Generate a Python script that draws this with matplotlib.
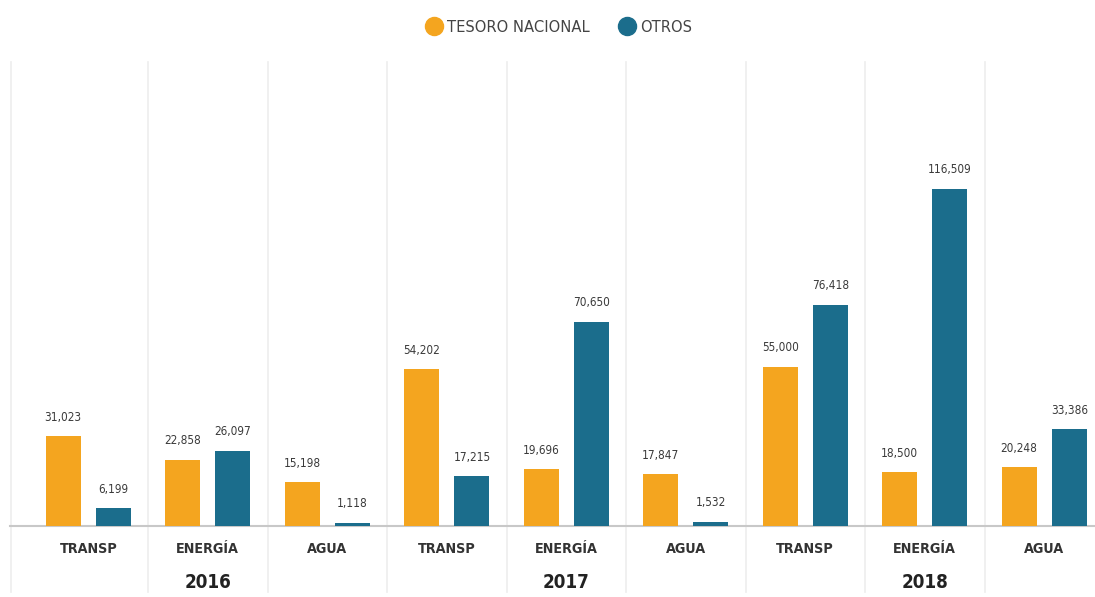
import numpy as np
import matplotlib
matplotlib.use("Agg")
import matplotlib.pyplot as plt
from matplotlib.lines import Line2D
from matplotlib.transforms import blended_transform_factory

# inversion por sector y fuente de financiamiento
years = ['2016', '2017', '2018']
sectors = ['TRANSP', 'ENERGÍA', 'AGUA']
categories = sectors * len(years)
tesoro = [31023, 22858, 15198, 54202, 19696, 17847, 55000, 18500, 20248]
otros = [6199, 26097, 1118, 17215, 70650, 1532, 76418, 116509, 33386]

orange = '#F4A51F'
blue = '#1B6D8C'
fam = ['DejaVu Sans']
stretch = 'condensed'

W, H = 1095, 597
fig = plt.figure(figsize=(W / 100, H / 100), dpi=100)
ax = fig.add_axes([0, 0, 1, 1])

# pixel scale: one category is ~119.5 px wide, 1000 units ~2.893 px tall
cat_px = 119.5
x0 = -0.5 - 28.5 / cat_px
ax.set_xlim(x0, x0 + W / cat_px)
base_px = 526
unit = 2.893 / 1000
ax.set_ylim(-(H - base_px) / unit, base_px / unit)
ax.axis('off')

x = np.arange(len(categories))
bw = 0.293
off = 0.21

# separators between categories
top_y = (base_px - 62) / unit
bot_y = (base_px - 592) / unit
for sx in [x0 + 11 / cat_px] + list(x[:-1] + 0.5):
    ax.plot([sx, sx], [bot_y, top_y], color='#ededed', lw=1.2, zorder=0)

ax.plot([x0 + 10 / cat_px, x0 + W / cat_px], [0, 0], color='#c8c8c8', lw=1.5, zorder=1)

b1 = ax.bar(x - off, tesoro, bw, color=orange, zorder=2)
b2 = ax.bar(x + off, otros, bw, color=blue, zorder=2)

for bars, vals in [(b1, tesoro), (b2, otros)]:
    for b, v in zip(bars, vals):
        ax.annotate(f'{v:,}', (b.get_x() + b.get_width() / 2, v),
                    xytext=(0, 9), textcoords='offset points',
                    ha='center', va='bottom', fontsize=8.5,
                    color='#3a3a3a', family=fam, fontstretch=stretch)

tr = blended_transform_factory(ax.transData, ax.transAxes)
for i, c in enumerate(categories):
    ax.text(i, 1 - 549 / H, c, transform=tr, ha='center', va='center',
            fontsize=10.3, fontweight='bold', color='#333333', family=fam,
            fontstretch=stretch)
for j, yr in enumerate(years):
    ax.text(3 * j + 1, 1 - 582 / H, yr, transform=tr, ha='center', va='center',
            fontsize=13.5, fontweight='bold', color='#222222', family=fam,
            fontstretch=stretch)

handles = [Line2D([], [], ls='none', marker='o', ms=13, color=orange),
           Line2D([], [], ls='none', marker='o', ms=13, color=blue)]
fig.legend(handles, ['TESORO NACIONAL', 'OTROS'], loc='center',
           bbox_to_anchor=(558 / W, 1 - 27 / H), ncol=2, frameon=False,
           handletextpad=0.2, columnspacing=1.7, handlelength=1.2,
           prop={'family': fam, 'size': 11.8, 'stretch': stretch},
           labelcolor='#444444')

fig.savefig('out.png', dpi=100, facecolor='white')
